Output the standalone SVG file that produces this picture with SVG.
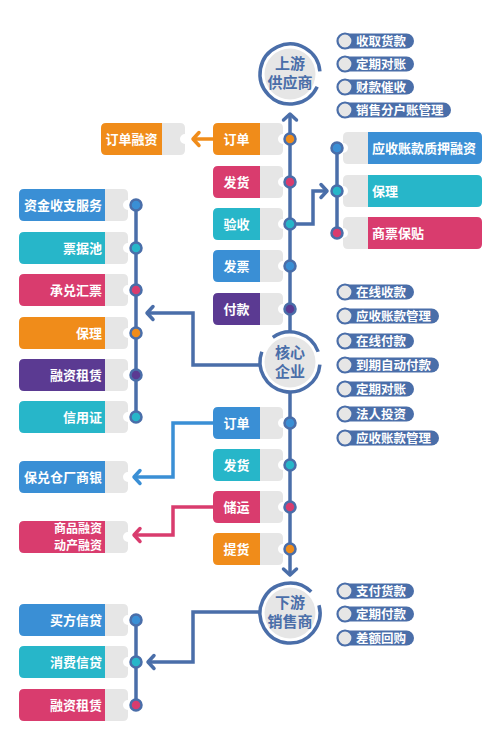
<svg xmlns="http://www.w3.org/2000/svg" width="500" height="751" viewBox="0 0 500 751">
<style>
.t{font-family:"Noto Sans CJK SC","Noto Sans",sans-serif;font-weight:bold;fill:#fff;font-size:13px}
.ts{font-size:12px}
.tc{text-anchor:middle}
.te{text-anchor:end}
.ct{font-family:"Noto Sans CJK SC","Noto Sans",sans-serif;font-weight:bold;fill:#4a6ea9;font-size:15px;text-anchor:middle}
.pt{font-family:"Noto Sans CJK SC","Noto Sans",sans-serif;font-weight:bold;fill:#fff;font-size:12.5px}
.g{fill:#e6e6e6}
.dot{stroke:#4a6ea9;stroke-width:2.5}
.ln{fill:none;stroke:#4a6ea9;stroke-width:3.5;stroke-linejoin:miter}
.ring{fill:none;stroke:#4a6ea9;stroke-width:3.5}
.pb{fill:#4a6ea9}
.pc{fill:#e6e6e6;stroke:#4a6ea9;stroke-width:2.2}
</style>
<defs>
<path id="gM" d="M260,-16 H278 Q283,-16 283,-11 V-5 A5 5 0 0 0 283,5 V11 Q283,16 278,16 H260 Z"/>
<path id="cM" d="M218,-16 H260 V16 H218 Q213,16 213,11 V-11 Q213,-16 218,-16 Z"/>
<path id="gL" d="M105,-16 H123 Q128,-16 128,-11 V-5 A5 5 0 0 0 128,5 V11 Q128,16 123,16 H105 Z"/>
<path id="cL" d="M24,-16 H105 V16 H24 Q19,16 19,11 V-11 Q19,-16 24,-16 Z"/>
<path id="gR" d="M348,-16 H368 V16 H348 Q343,16 343,11 V5 A5 5 0 0 0 343,-5 V-11 Q343,-16 348,-16 Z"/>
<path id="cR" d="M368,-16 H477 Q482,-16 482,-11 V11 Q482,16 477,16 H368 Z"/>
<marker id="aB" markerUnits="userSpaceOnUse" viewBox="-10 -10 20 20" markerWidth="20" markerHeight="20" refX="0" refY="0" orient="auto" overflow="visible"><path d="M-6,-6.5 L0,0 L-6,6.5" fill="none" stroke="#4a6ea9" stroke-width="3.5" stroke-linecap="round" stroke-linejoin="round"/></marker>
<marker id="aO" markerUnits="userSpaceOnUse" viewBox="-10 -10 20 20" markerWidth="20" markerHeight="20" refX="0" refY="0" orient="auto" overflow="visible"><path d="M-6,-6.5 L0,0 L-6,6.5" fill="none" stroke="#f08c1a" stroke-width="3.5" stroke-linecap="round" stroke-linejoin="round"/></marker>
<marker id="aL" markerUnits="userSpaceOnUse" viewBox="-10 -10 20 20" markerWidth="20" markerHeight="20" refX="0" refY="0" orient="auto" overflow="visible"><path d="M-6,-6.5 L0,0 L-6,6.5" fill="none" stroke="#3a8fd5" stroke-width="3.5" stroke-linecap="round" stroke-linejoin="round"/></marker>
<marker id="aP" markerUnits="userSpaceOnUse" viewBox="-10 -10 20 20" markerWidth="20" markerHeight="20" refX="0" refY="0" orient="auto" overflow="visible"><path d="M-6,-6.5 L0,0 L-6,6.5" fill="none" stroke="#d93c6e" stroke-width="3.5" stroke-linecap="round" stroke-linejoin="round"/></marker>
</defs>
<rect width="500" height="751" fill="#fff"/>

<g id="connectors">
<path class="ln" d="M290,331 V114" marker-end="url(#aB)"/>
<path class="ln" d="M290,393 V575" marker-end="url(#aB)"/>
<path class="ln" d="M136,205 V417"/>
<path class="ln" d="M337,148 V233"/>
<path class="ln" d="M136,620 V705"/>
<path d="M213,139 H193" fill="none" stroke="#f08c1a" stroke-width="3.5" marker-end="url(#aO)"/>
<path class="ln" d="M293,224 H313 V191 H327" marker-end="url(#aB)"/>
<path class="ln" d="M260,365 H193 V313 H147" marker-end="url(#aB)"/>
<path d="M213,423 H173 V477 H134" fill="none" stroke="#3a8fd5" stroke-width="3.5" marker-end="url(#aL)"/>
<path d="M213,507 H173 V535 H134" fill="none" stroke="#d93c6e" stroke-width="3.5" marker-end="url(#aP)"/>
<path class="ln" d="M260,612 H193 V662 H148" marker-end="url(#aB)"/>
</g>

<g id="upstream">
<circle cx="290" cy="74" r="25.5" class="g"/>
<path class="ring" d="M317.19,86.68 A30 30 0 1 1 319.89,71.38"/>
<text class="ct" x="290" y="69">上游</text>
<text class="ct" x="290" y="88">供应商</text>
</g>
<g id="core">
<circle cx="290" cy="362" r="25.5" class="g"/>
<path class="ring" d="M319.89,364.61 A30 30 0 1 1 261.81,351.74"/>
<path class="ring" d="M272.79,337.42 A30 30 0 0 1 318.19,351.74"/>
<text class="ct" x="290" y="358">核心</text>
<text class="ct" x="290" y="377">企业</text>
</g>
<g id="downstream">
<circle cx="290" cy="613" r="25.5" class="g"/>
<path class="ring" d="M318.98,605.24 A30 30 0 1 1 311.21,591.79"/>
<text class="ct" x="290" y="608">下游</text>
<text class="ct" x="290" y="627">销售商</text>
</g>

<g id="up-pills">
<g transform="translate(0,41)"><rect class="pb" x="340" y="-7.5" width="74" height="15" rx="7.5"/><circle class="pc" cx="345" cy="0" r="7.5"/><text class="pt" x="356" y="4.5">收取货款</text></g>
<g transform="translate(0,64)"><rect class="pb" x="340" y="-7.5" width="74" height="15" rx="7.5"/><circle class="pc" cx="345" cy="0" r="7.5"/><text class="pt" x="356" y="4.5">定期对账</text></g>
<g transform="translate(0,87)"><rect class="pb" x="340" y="-7.5" width="74" height="15" rx="7.5"/><circle class="pc" cx="345" cy="0" r="7.5"/><text class="pt" x="356" y="4.5">财款催收</text></g>
<g transform="translate(0,110)"><rect class="pb" x="340" y="-7.5" width="111" height="15" rx="7.5"/><circle class="pc" cx="345" cy="0" r="7.5"/><text class="pt" x="356" y="4.5">销售分户账管理</text></g>
</g>

<g id="core-pills">
<g transform="translate(0,292)"><rect class="pb" x="340" y="-7.5" width="74" height="15" rx="7.5"/><circle class="pc" cx="345" cy="0" r="7.5"/><text class="pt" x="356" y="4.5">在线收款</text></g>
<g transform="translate(0,316)"><rect class="pb" x="340" y="-7.5" width="99" height="15" rx="7.5"/><circle class="pc" cx="345" cy="0" r="7.5"/><text class="pt" x="356" y="4.5">应收账款管理</text></g>
<g transform="translate(0,341)"><rect class="pb" x="340" y="-7.5" width="74" height="15" rx="7.5"/><circle class="pc" cx="345" cy="0" r="7.5"/><text class="pt" x="356" y="4.5">在线付款</text></g>
<g transform="translate(0,365)"><rect class="pb" x="340" y="-7.5" width="99" height="15" rx="7.5"/><circle class="pc" cx="345" cy="0" r="7.5"/><text class="pt" x="356" y="4.5">到期自动付款</text></g>
<g transform="translate(0,389)"><rect class="pb" x="340" y="-7.5" width="74" height="15" rx="7.5"/><circle class="pc" cx="345" cy="0" r="7.5"/><text class="pt" x="356" y="4.5">定期对账</text></g>
<g transform="translate(0,414)"><rect class="pb" x="340" y="-7.5" width="74" height="15" rx="7.5"/><circle class="pc" cx="345" cy="0" r="7.5"/><text class="pt" x="356" y="4.5">法人投资</text></g>
<g transform="translate(0,438)"><rect class="pb" x="340" y="-7.5" width="99" height="15" rx="7.5"/><circle class="pc" cx="345" cy="0" r="7.5"/><text class="pt" x="356" y="4.5">应收账款管理</text></g>
</g>

<g id="down-pills">
<g transform="translate(0,591)"><rect class="pb" x="340" y="-7.5" width="74" height="15" rx="7.5"/><circle class="pc" cx="345" cy="0" r="7.5"/><text class="pt" x="356" y="4.5">支付货款</text></g>
<g transform="translate(0,614)"><rect class="pb" x="340" y="-7.5" width="74" height="15" rx="7.5"/><circle class="pc" cx="345" cy="0" r="7.5"/><text class="pt" x="356" y="4.5">定期付款</text></g>
<g transform="translate(0,638)"><rect class="pb" x="340" y="-7.5" width="74" height="15" rx="7.5"/><circle class="pc" cx="345" cy="0" r="7.5"/><text class="pt" x="356" y="4.5">差额回购</text></g>
</g>

<!-- middle upper cards -->
<g id="m-dingdan" transform="translate(0,139)"><use href="#gM" class="g"/><use href="#cM" fill="#f08c1a"/><text class="t tc" x="236.5" y="5">订单</text><circle class="dot" cx="290" cy="0" r="5.5" fill="#f08c1a"/></g>
<g id="m-fahuo" transform="translate(0,182)"><use href="#gM" class="g"/><use href="#cM" fill="#d93c6e"/><text class="t tc" x="236.5" y="5">发货</text><circle class="dot" cx="290" cy="0" r="5.5" fill="#d93c6e"/></g>
<g id="m-yanshou" transform="translate(0,224)"><use href="#gM" class="g"/><use href="#cM" fill="#27b6c9"/><text class="t tc" x="236.5" y="5">验收</text><circle class="dot" cx="290" cy="0" r="5.5" fill="#27b6c9"/></g>
<g id="m-fapiao" transform="translate(0,266)"><use href="#gM" class="g"/><use href="#cM" fill="#3a8fd5"/><text class="t tc" x="236.5" y="5">发票</text><circle class="dot" cx="290" cy="0" r="5.5" fill="#3a8fd5"/></g>
<g id="m-fukuan" transform="translate(0,309)"><use href="#gM" class="g"/><use href="#cM" fill="#5b3a92"/><text class="t tc" x="236.5" y="5">付款</text><circle class="dot" cx="290" cy="0" r="5.5" fill="#5b3a92"/></g>

<!-- middle lower cards -->
<g id="m2-dingdan" transform="translate(0,423)"><use href="#gM" class="g"/><use href="#cM" fill="#3a8fd5"/><text class="t tc" x="236.5" y="5">订单</text><circle class="dot" cx="290" cy="0" r="5.5" fill="#3a8fd5"/></g>
<g id="m2-fahuo" transform="translate(0,465)"><use href="#gM" class="g"/><use href="#cM" fill="#27b6c9"/><text class="t tc" x="236.5" y="5">发货</text><circle class="dot" cx="290" cy="0" r="5.5" fill="#27b6c9"/></g>
<g id="m2-chuyun" transform="translate(0,507)"><use href="#gM" class="g"/><use href="#cM" fill="#d93c6e"/><text class="t tc" x="236.5" y="5">储运</text><circle class="dot" cx="290" cy="0" r="5.5" fill="#d93c6e"/></g>
<g id="m2-tihuo" transform="translate(0,549)"><use href="#gM" class="g"/><use href="#cM" fill="#f08c1a"/><text class="t tc" x="236.5" y="5">提货</text><circle class="dot" cx="290" cy="0" r="5.5" fill="#f08c1a"/></g>

<!-- order financing -->
<g id="dingdan-rongzi">
<path class="g" d="M162,123 H180 Q185,123 185,128 V134 A5 5 0 0 0 185,144 V150 Q185,155 180,155 H162 Z"/>
<path fill="#f08c1a" d="M106,123 H162 V155 H106 Q101,155 101,150 V128 Q101,123 106,123 Z"/>
<text class="t tc" x="131.5" y="144">订单融资</text>
</g>

<!-- right group -->
<g id="r-zhiya" transform="translate(0,148)"><use href="#gR" class="g"/><use href="#cR" fill="#3a8fd5"/><text class="t" x="372" y="5">应收账款质押融资</text><circle class="dot" cx="337" cy="0" r="5.5" fill="#3a8fd5"/></g>
<g id="r-baoli" transform="translate(0,191)"><use href="#gR" class="g"/><use href="#cR" fill="#27b6c9"/><text class="t" x="372" y="5">保理</text><circle class="dot" cx="337" cy="0" r="5.5" fill="#27b6c9"/></g>
<g id="r-shangpiao" transform="translate(0,233)"><use href="#gR" class="g"/><use href="#cR" fill="#d93c6e"/><text class="t" x="372" y="5">商票保贴</text><circle class="dot" cx="337" cy="0" r="5.5" fill="#d93c6e"/></g>

<!-- left group -->
<g id="l-zijin" transform="translate(0,205)"><use href="#gL" class="g"/><use href="#cL" fill="#3a8fd5"/><text class="t te" x="102" y="5">资金收支服务</text><circle class="dot" cx="136" cy="0" r="5.5" fill="#3a8fd5"/></g>
<g id="l-piaoju" transform="translate(0,248)"><use href="#gL" class="g"/><use href="#cL" fill="#27b6c9"/><text class="t te" x="102" y="5">票据池</text><circle class="dot" cx="136" cy="0" r="5.5" fill="#27b6c9"/></g>
<g id="l-chengdui" transform="translate(0,290)"><use href="#gL" class="g"/><use href="#cL" fill="#d93c6e"/><text class="t te" x="102" y="5">承兑汇票</text><circle class="dot" cx="136" cy="0" r="5.5" fill="#d93c6e"/></g>
<g id="l-baoli" transform="translate(0,333)"><use href="#gL" class="g"/><use href="#cL" fill="#f08c1a"/><text class="t te" x="102" y="5">保理</text><circle class="dot" cx="136" cy="0" r="5.5" fill="#f08c1a"/></g>
<g id="l-zulin" transform="translate(0,375)"><use href="#gL" class="g"/><use href="#cL" fill="#5b3a92"/><text class="t te" x="102" y="5">融资租赁</text><circle class="dot" cx="136" cy="0" r="5.5" fill="#5b3a92"/></g>
<g id="l-xinyong" transform="translate(0,417)"><use href="#gL" class="g"/><use href="#cL" fill="#27b6c9"/><text class="t te" x="102" y="5">信用证</text><circle class="dot" cx="136" cy="0" r="5.5" fill="#27b6c9"/></g>

<g id="l-baodui" transform="translate(0,477)"><use href="#gL" class="g"/><use href="#cL" fill="#3a8fd5"/><text class="t te" x="102" y="5">保兑仓厂商银</text></g>
<g id="l-shangpin" transform="translate(0,537)"><use href="#gL" class="g"/><use href="#cL" fill="#d93c6e"/><text class="t ts te" x="102" y="-4">商品融资</text><text class="t ts te" x="102" y="13">动产融资</text></g>

<!-- bottom left group -->
<g id="b-maifang" transform="translate(0,620)"><use href="#gL" class="g"/><use href="#cL" fill="#3a8fd5"/><text class="t te" x="102" y="5">买方信贷</text><circle class="dot" cx="136" cy="0" r="5.5" fill="#3a8fd5"/></g>
<g id="b-xiaofei" transform="translate(0,662)"><use href="#gL" class="g"/><use href="#cL" fill="#27b6c9"/><text class="t te" x="102" y="5">消费信贷</text><circle class="dot" cx="136" cy="0" r="5.5" fill="#27b6c9"/></g>
<g id="b-zulin" transform="translate(0,705)"><use href="#gL" class="g"/><use href="#cL" fill="#d93c6e"/><text class="t te" x="102" y="5">融资租赁</text><circle class="dot" cx="136" cy="0" r="5.5" fill="#d93c6e"/></g>
</svg>
